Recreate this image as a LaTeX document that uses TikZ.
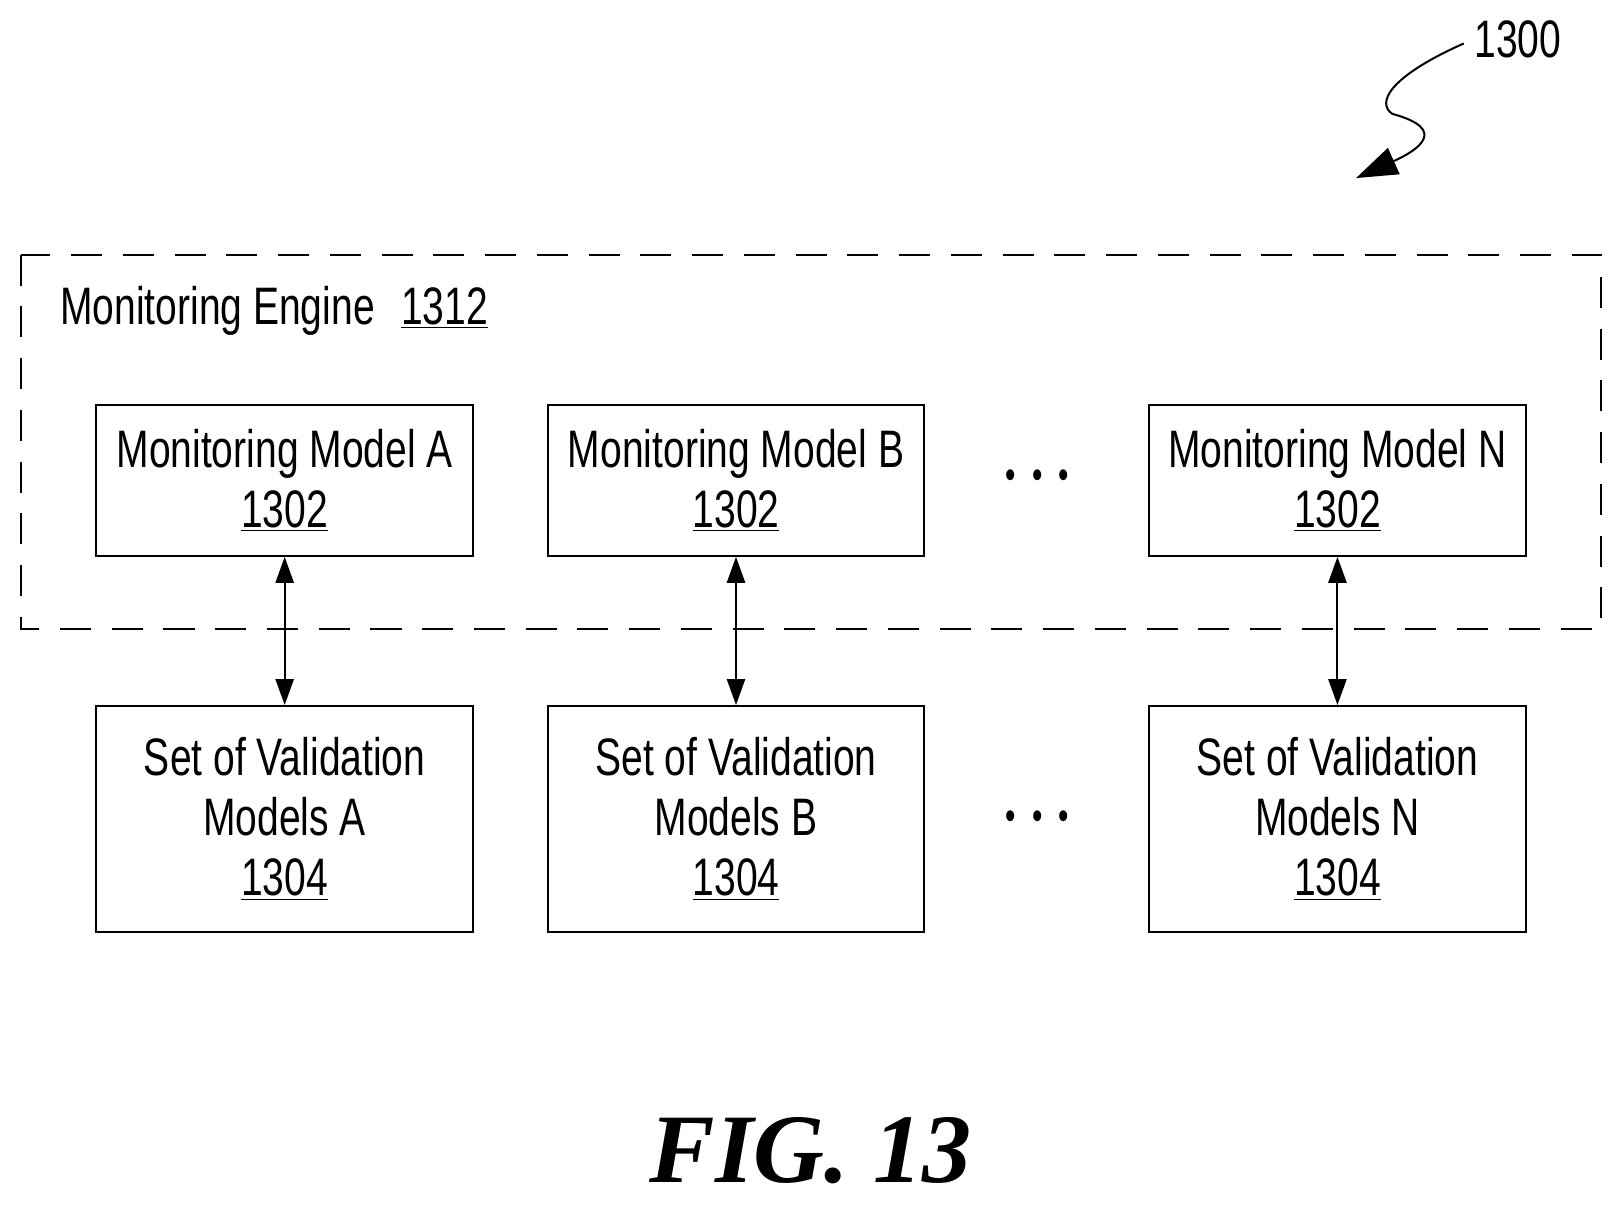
\documentclass[tikz,border=0pt]{standalone}
\usepackage{fontspec}
\setmainfont[FakeStretch=0.74]{Liberation Sans}
\newfontfamily\figfont{Liberation Serif}
\usetikzlibrary{arrows.meta,positioning}
\tikzset{
  model/.style={draw, line width=1.1pt, minimum width=7.28cm, align=center, inner sep=0pt, font=\fontsize{29}{33}\selectfont},
  link/.style={line width=1.1pt, {Triangle[length=0.5cm,width=0.35cm]}-{Triangle[length=0.5cm,width=0.35cm]}},
  edots/.style={font=\fontsize{22}{22}\selectfont}
}
\begin{document}
\begin{tikzpicture}[x=0.02cm,y=-0.02cm]
  \useasboundingbox (0,0) rectangle (1564,1166);
  % engine frame
  \draw[line width=1.1pt, dash pattern=on 0.6cm off 0.4cm] (20,246) rectangle (1547,608);
  \node[anchor=west, font=\fontsize{29}{30}\selectfont] (engine) at (52,300) {Monitoring Engine\enspace\underline{1312}};

  \foreach \name/\x in {A/275,B/711,N/1292}
  {
    \node[model, minimum height=2.92cm] (mon\name) at (\x,464) {Monitoring Model \name\\\underline{1302}};
    \node[model, minimum height=4.36cm] (val\name) at (\x,791) {Set of Validation\\Models \name\\\underline{1304}};
    \draw[link] (mon\name) -- (val\name);
  }
  \node[edots] (dotsT) at (1002,463) {\textbullet\ \ \textbullet\ \ \textbullet};
  \node[edots] (dotsB) at (1002,792) {\textbullet\ \ \textbullet\ \ \textbullet};

  % reference numeral
  \node[anchor=west, font=\fontsize{29}{30}\selectfont] (ref) at (1418,38) {1300};
  \coordinate (tip) at (1310,172);
  \draw[line width=1.1pt, -{Triangle[length=0.8cm,width=0.55cm]}] (1414,42) .. controls (1340,75) and (1330,100) .. (1345,110)
     .. controls (1400,125) and (1370,145) .. (tip);

  \node[font=\figfont\bfseries\itshape\fontsize{54}{54}\selectfont] (fig) at (783,1112) {FIG. 13};
\end{tikzpicture}
\end{document}
